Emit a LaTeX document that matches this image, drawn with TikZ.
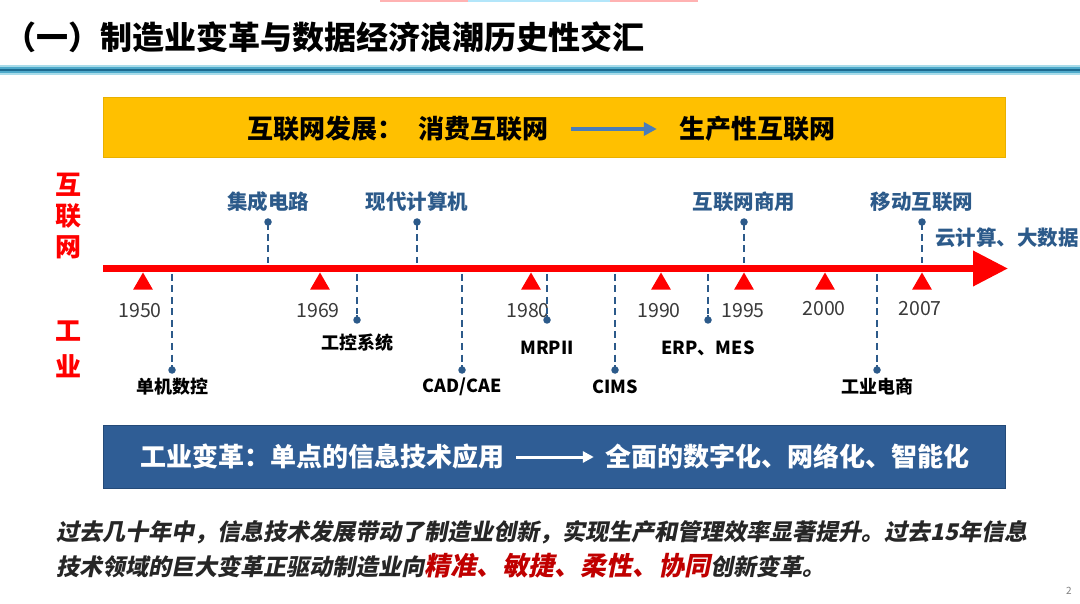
\documentclass[tikz,border=0pt]{standalone}
\usepackage{fontspec}
\setmainfont{Noto Sans CJK SC}
\newfontfamily\slantcjk[FakeSlant=0.2,BoldFeatures={FakeSlant=0.2}]{Noto Sans CJK SC}
\usepackage{tikz}
\usetikzlibrary{calc}
\usetikzlibrary{arrows.meta}
\usetikzlibrary{shapes.geometric}
\usetikzlibrary{positioning}
\definecolor{bandyellow}{HTML}{FFC000}
\definecolor{bandyellowedge}{HTML}{E8B000}
\definecolor{bandblue}{HTML}{2F5D95}
\definecolor{bandblueedge}{HTML}{244A78}
\definecolor{evblue}{HTML}{2C5A8A}
\definecolor{arrowblue}{HTML}{4A7DBA}
\definecolor{yeargray}{HTML}{3A3A3A}
\definecolor{deepred}{HTML}{C00000}
\definecolor{rulelight}{HTML}{A8DCEA}
\definecolor{rulemid}{HTML}{4FAACB}
\definecolor{ruledark}{HTML}{1D6B90}
\tikzset{bandbox/.style={rectangle,minimum width=902pt,inner sep=0pt,line width=1pt}}
\tikzset{tri/.style={regular polygon,regular polygon sides=3,fill=red,draw=none,minimum size=23pt,inner sep=0pt}}
\tikzset{evdot/.style={circle,fill=evblue,draw=none,minimum size=7.5pt,inner sep=0pt}}
\tikzset{evline/.style={evblue,line width=1.8pt,dash pattern=on 7pt off 4.5pt}}
\tikzset{yr/.style={font=\fontsize{19.5}{22}\selectfont,text=yeargray,inner sep=0pt}}
\tikzset{uptext/.style={font=\fontsize{20.5}{24}\selectfont\bfseries,text=evblue,inner sep=0pt}}
\tikzset{downtext/.style={font=\fontsize{18}{21}\selectfont\bfseries,text=black,inner sep=0pt}}
\tikzset{sidetext/.style={font=\fontsize{26}{30}\selectfont\bfseries,text=red,inner sep=0pt}}

\begin{document}
\begin{tikzpicture}[x=1pt,y=-1pt]
\useasboundingbox[fill=white] (0,0) rectangle (1080,604);

% header
\fill[red!30] (380,0) rectangle (468,2);
\fill[cyan!30] (468,0) rectangle (610,2);
\fill[red!30] (610,0) rectangle (698,2);
\node[anchor=west,font=\fontsize{32}{38}\selectfont\bfseries,inner sep=0pt] (title) at (4,37) {（一）制造业变革与数据经济浪潮历史性交汇};
\fill[rulelight] (0,65) rectangle (1080,75);
\fill[rulemid] (0,67) rectangle (1080,73);
\fill[ruledark] (0,69) rectangle (1080,71);

% internet band
\node[bandbox,minimum height=60pt,fill=bandyellow,draw=bandyellowedge] (net) at (554,128) {};
\node[font=\fontsize{26}{30}\selectfont\bfseries,inner sep=0pt] (netA) at (398,129) {互联网发展：\hspace{16pt}消费互联网};
\node[font=\fontsize{26}{30}\selectfont\bfseries,inner sep=0pt] (netB) at (757,129) {生产性互联网};
\draw[arrowblue,line width=4pt,-{Triangle[length=13pt,width=13pt]}] ([xshift=22pt]netA.east) -- ([xshift=-22pt]netB.west);

% side labels
\foreach \ch/\y in {互/185,联/216,网/247,工/331,业/366} {
	\node[sidetext] (side\ch) at (68,\y) {\ch};
}

% timeline
\coordinate (tlA) at (103,268.5);
\coordinate (tlB) at (1008,268.5);
\draw[red,line width=7pt,-{Triangle[length=35pt,width=34pt]}] (tlA) -- (tlB);

\foreach \i/\x/\tx/\ty/\yy in {1/143/140/311/1950,2/320/318/311/1969,3/531/528/311/1980,4/661/659/311/1990,5/744/743/311/1995,6/825/824/309/2000,7/922/920/309/2007} {
	\node[tri] (T\i) at (\x,284) {};
	\node[yr] (Y\i) at (\tx,\ty) {\yy};
}

% internet events
\foreach \i/\x/\t in {1/268/集成电路,2/417/现代计算机,3/744/互联网商用,4/922/移动互联网} {
	\node[evdot] (U\i) at (\x,222) {};
	\draw[evblue,line width=1.8pt] (U\i.center) -- ++(0,8);
	\draw[evline] ($(U\i)+(0,12)$) -- (\x,263);
	\node[uptext] (UL\i) at (\x,202) {\t};
}
\node[uptext,anchor=west] (cloud) at (935,238) {云计算、大数据};

% industry events
\foreach \i/\x/\y/\ly/\t in {1/172/370/387/单机数控,2/357/320/343/工控系统,3/462/370/387/{CAD/CAE},4/547/320/348/MRPII,5/615/370/387/CIMS,6/708/320/348/{ERP、MES},7/877/370/387/工业电商} {
	\node[evdot] (D\i) at (\x,\y) {};
	\draw[evline] (\x,274) -- ($(D\i)+(0,-6)$);
	\draw[evblue,line width=1.8pt] (D\i.center) -- ++(0,-5);
	\node[downtext] (DL\i) at (\x,\ly) {\t};
}

% industry band
\node[bandbox,minimum height=63pt,fill=bandblue,draw=bandblueedge] (ind) at (554,457) {};
\node[font=\fontsize{26}{30}\selectfont\bfseries,text=white,inner sep=0pt] (indA) at (322,457) {工业变革：单点的信息技术应用};
\node[font=\fontsize{26}{30}\selectfont\bfseries,text=white,inner sep=0pt] (indB) at (787,457) {全面的数字化、网络化、智能化};
\draw[white,line width=3pt,-{Triangle[length=11pt,width=11pt]}] ([xshift=12pt]indA.east) -- ([xshift=-11pt]indB.west);

% summary
\node[anchor=west,inner sep=0pt,font=\fontsize{23}{28}\selectfont\slantcjk\bfseries,text=black!85] (sumA) at (56,532) {过去几十年中，信息技术发展带动了制造业创新，实现生产和管理效率显著提升。过去15年信息};
\node[anchor=west,inner sep=0pt,font=\fontsize{23}{28}\selectfont\slantcjk\bfseries,text=black!85] (sumB) at (56,566) {技术领域的巨大变革正驱动制造业向{\fontsize{26}{30}\selectfont\color{deepred}精准、敏捷、柔性、协同}创新变革。};
\node[font=\fontsize{10}{12}\selectfont,text=gray,inner sep=0pt] (page) at (1069,591) {2};
\end{tikzpicture}
\end{document}
